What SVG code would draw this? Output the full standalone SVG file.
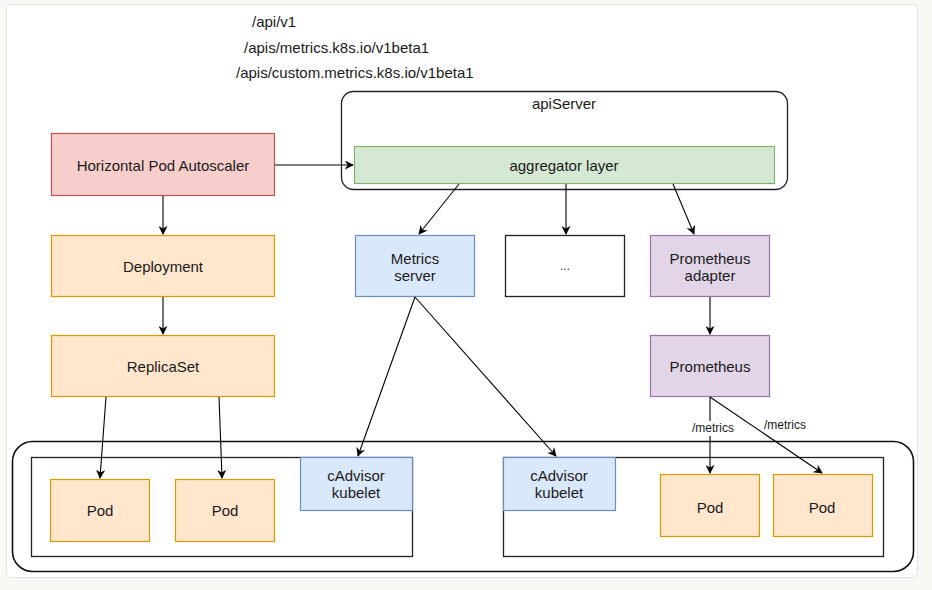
<svg xmlns="http://www.w3.org/2000/svg" width="932" height="590" viewBox="0 0 932 590">
<defs>
<marker id="arr" viewBox="0 0 10 10" refX="9" refY="5" markerWidth="9" markerHeight="9" markerUnits="userSpaceOnUse" orient="auto">
<path d="M0,0 L10,5 L0,10 L3,5 Z" fill="#000"/>
</marker>
</defs>
<style>
text{font-family:"Liberation Sans",Arial,sans-serif;font-size:15px;fill:#1a1a1a;text-anchor:middle;dominant-baseline:central}
.t{text-anchor:start}
.c{stroke:#000;stroke-width:1.1;fill:none;marker-end:url(#arr)}
.red{fill:#f8cecc;stroke:#b85450;stroke-width:1.2}
.org{fill:#ffe6cc;stroke:#d79b00;stroke-width:1.2}
.blu{fill:#dae8fc;stroke:#6c8ebf;stroke-width:1.2}
.pur{fill:#e1d5e7;stroke:#9673a6;stroke-width:1.2}
.grn{fill:#d5e8d4;stroke:#82b366;stroke-width:1.2}
.box{fill:#fff;stroke:#222;stroke-width:1.3}
</style>
<rect x="0" y="0" width="932" height="590" fill="#f8f8f5"/>
<rect x="6.5" y="4.5" width="911" height="573" rx="5" fill="#fff" stroke="#e2e2e0"/>

<g id="api-paths">
<text class="t" x="252" y="21">/api/v1</text>
<text class="t" x="244" y="47">/apis/metrics.k8s.io/v1beta1</text>
<text class="t" x="236" y="72">/apis/custom.metrics.k8s.io/v1beta1</text>
</g>

<g id="apiServer">
<rect class="box" x="341.5" y="91.5" width="446" height="98" rx="12"/>
<text x="564" y="103">apiServer</text>
</g>
<g id="aggregator">
<rect class="grn" x="354.5" y="146.5" width="420" height="37"/>
<text x="564" y="165">aggregator layer</text>
</g>

<g id="hpa">
<rect class="red" x="51.5" y="133.5" width="223" height="62"/>
<text x="163" y="165">Horizontal Pod Autoscaler</text>
</g>
<g id="deployment">
<rect class="org" x="51.5" y="235.5" width="223" height="61"/>
<text x="163" y="266">Deployment</text>
</g>
<g id="replicaset">
<rect class="org" x="51.5" y="335.5" width="223" height="61"/>
<text x="163" y="366">ReplicaSet</text>
</g>

<g id="metrics-server">
<rect class="blu" x="355.5" y="235.5" width="119" height="61"/>
<text x="415" y="258">Metrics</text>
<text x="415" y="275">server</text>
</g>
<g id="other">
<rect class="box" x="505.5" y="235.5" width="119" height="61"/>
<text x="565" y="266" style="font-size:12px;fill:#444">...</text>
</g>
<g id="prometheus-adapter">
<rect class="pur" x="650.5" y="235.5" width="119" height="61"/>
<text x="710" y="258">Prometheus</text>
<text x="710" y="275">adapter</text>
</g>
<g id="prometheus">
<rect class="pur" x="650.5" y="335.5" width="119" height="61"/>
<text x="710" y="366">Prometheus</text>
</g>

<g id="cluster">
<rect x="12.5" y="441.5" width="901" height="130" rx="20" fill="none" stroke="#111" stroke-width="1.6"/>
</g>
<g id="node1">
<rect class="box" x="31.5" y="457.5" width="381" height="99"/>
</g>
<g id="node2">
<rect class="box" x="503.5" y="457.5" width="380" height="99"/>
</g>
<g id="cadvisor1">
<rect class="blu" x="300.5" y="457.5" width="112" height="53"/>
<text x="356" y="475">cAdvisor</text>
<text x="356" y="492">kubelet</text>
</g>
<g id="cadvisor2">
<rect class="blu" x="503.5" y="457.5" width="112" height="53"/>
<text x="559" y="475">cAdvisor</text>
<text x="559" y="492">kubelet</text>
</g>
<g id="pod1">
<rect class="org" x="50.5" y="479.5" width="99" height="62"/>
<text x="100" y="510">Pod</text>
</g>
<g id="pod2">
<rect class="org" x="175.5" y="479.5" width="99" height="62"/>
<text x="225" y="510">Pod</text>
</g>
<g id="pod3">
<rect class="org" x="660.5" y="474.5" width="99" height="62"/>
<text x="710" y="507">Pod</text>
</g>
<g id="pod4">
<rect class="org" x="773.5" y="474.5" width="99" height="62"/>
<text x="822" y="507">Pod</text>
</g>

<g id="connectors">
<line class="c" x1="275" y1="165" x2="353" y2="165"/>
<line class="c" x1="163" y1="196" x2="163" y2="234"/>
<line class="c" x1="163" y1="297" x2="163" y2="334"/>
<line class="c" x1="459" y1="184" x2="419" y2="234"/>
<line class="c" x1="566" y1="184" x2="566" y2="234"/>
<line class="c" x1="673" y1="184" x2="694" y2="234"/>
<line class="c" x1="710" y1="297" x2="710" y2="334"/>
<line class="c" x1="106" y1="397" x2="100" y2="478"/>
<line class="c" x1="219" y1="397" x2="222" y2="478"/>
<line class="c" x1="415" y1="297" x2="358" y2="456"/>
<line class="c" x1="415" y1="297" x2="556" y2="456"/>
<line class="c" x1="710" y1="397" x2="710" y2="473"/>
<line class="c" x1="710" y1="397" x2="822" y2="473"/>
<rect x="688" y="421" width="50" height="15" fill="#fff"/>
<text x="713" y="428" style="font-size:12px">/metrics</text>
<text x="785" y="425" style="font-size:12px">/metrics</text>
</g>
</svg>
